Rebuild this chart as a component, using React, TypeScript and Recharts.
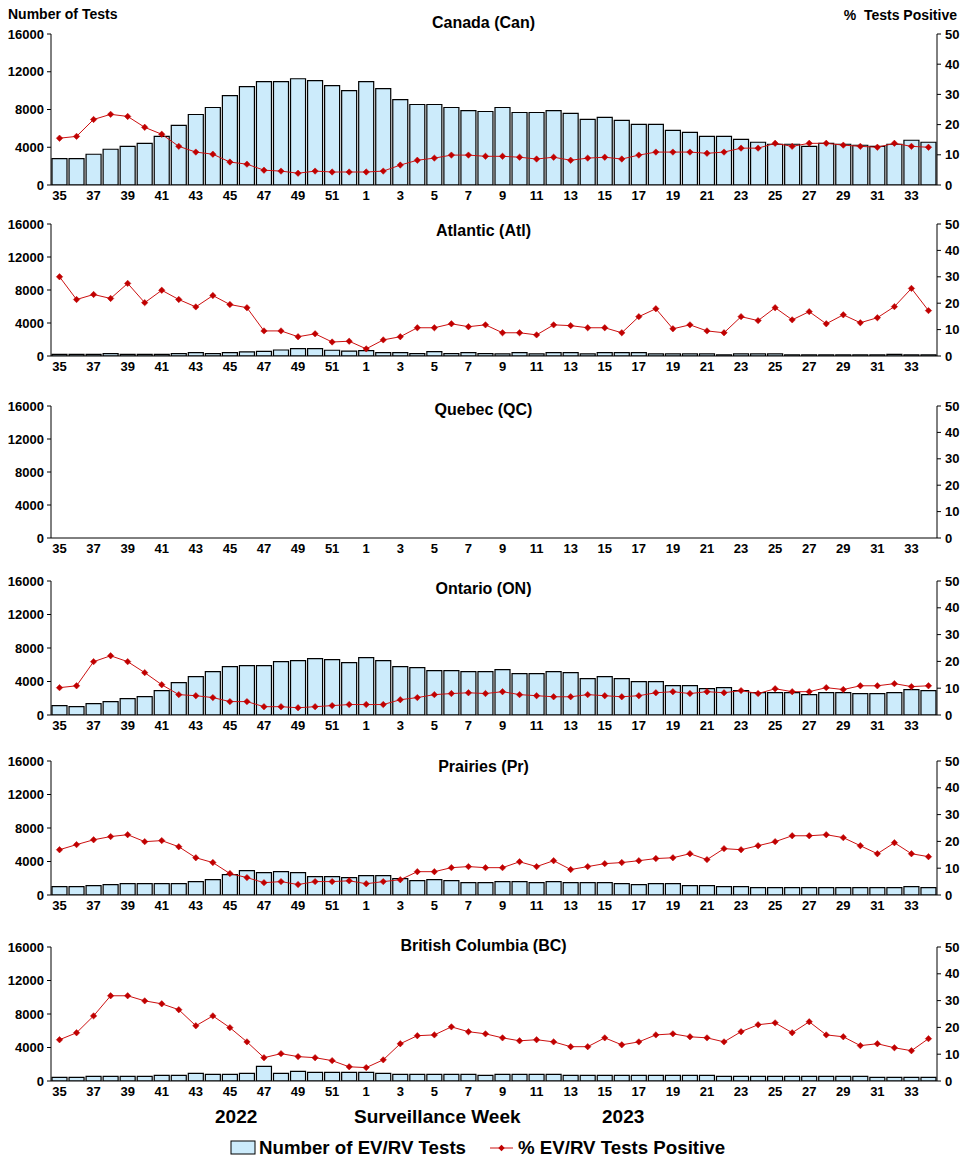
import React from "react";
import { ComposedChart, Bar, Line, XAxis, YAxis } from "recharts";

const weeks = [
  "35", "36", "37", "38", "39", "40", "41", "42", "43", "44", "45", "46", "47", "48", "49", "50", "51", "52",
  "1", "2", "3", "4", "5", "6", "7", "8", "9", "10", "11", "12", "13", "14", "15", "16", "17",
  "18", "19", "20", "21", "22", "23", "24", "25", "26", "27", "28", "29", "30", "31", "32", "33", "34",
];

const testTicks = [0, 4000, 8000, 12000, 16000];
const pctTicks = [0, 10, 20, 30, 40, 50];

// Canada
const canTests = [
  2800, 2800, 3260, 3790, 4100, 4420, 5160, 6320, 7470, 8210, 9470, 10420, 10950, 10950, 11260, 11050, 10530, 10000,
  10950, 10210, 9050, 8530, 8530, 8210, 7890, 7790, 8210, 7680, 7680, 7890, 7580, 6950, 7160, 6840, 6420,
  6420, 5790, 5580, 5160, 5160, 4840, 4530, 4320, 4320, 4100, 4420, 4320, 4210, 4100, 4320, 4740, 4530,
];
const canPct = [
  15.5, 16.1, 21.7, 23.4, 22.7, 19.1, 16.8, 12.8, 10.9, 10.2, 7.6, 6.9, 4.9, 4.6, 3.9, 4.6, 4.3, 4.3,
  4.3, 4.6, 6.6, 8.2, 8.9, 9.9, 9.9, 9.5, 9.5, 9.2, 8.6, 9.2, 8.2, 8.9, 9.2, 8.6, 9.9,
  10.9, 10.9, 10.9, 10.5, 10.9, 12.2, 12.2, 13.8, 12.8, 13.8, 13.8, 13.2, 12.8, 12.5, 13.8, 12.8, 12.5,
];

// Atlantic
const atlTests = [
  200, 200, 200, 300, 200, 200, 200, 300, 400, 300, 400, 500, 550, 730, 900, 900, 700, 600,
  650, 400, 400, 300, 530, 300, 400, 300, 250, 400, 250, 400, 400, 250, 400, 400, 400,
  250, 250, 250, 250, 150, 250, 250, 250, 150, 150, 150, 150, 150, 150, 200, 150, 150,
];
const atlPct = [
  30.0, 21.4, 23.3, 21.8, 27.5, 20.2, 24.9, 21.4, 18.6, 22.9, 19.5, 18.3, 9.5, 9.5, 7.3, 8.4, 5.3, 5.6,
  2.7, 6.1, 7.3, 10.7, 10.7, 12.2, 11.1, 11.8, 8.8, 8.8, 8.0, 11.8, 11.5, 10.7, 10.7, 8.8, 14.9,
  17.9, 10.3, 11.8, 9.5, 8.8, 14.9, 13.4, 18.3, 13.7, 16.8, 12.2, 15.6, 12.6, 14.5, 18.7, 25.6, 17.2,
];

// Quebec (no data reported)
const qcTests: (number | null)[] = [];
const qcPct: (number | null)[] = [];

// Ontario
const onTests = [
  1110, 1000, 1350, 1590, 1950, 2190, 2900, 3860, 4580, 5180, 5780, 5900, 5900, 6370, 6490, 6730, 6610, 6250,
  6850, 6490, 5780, 5660, 5300, 5300, 5180, 5180, 5420, 4940, 4940, 5180, 5060, 4340, 4580, 4340, 3980,
  3980, 3510, 3510, 3150, 3270, 2910, 2670, 2670, 2670, 2430, 2670, 2670, 2550, 2550, 2670, 3030, 2910,
];
const onPct = [
  10.2, 10.9, 19.9, 22.1, 19.9, 15.8, 11.3, 7.6, 7.2, 6.5, 5.0, 5.0, 3.1, 3.1, 2.7, 3.1, 3.5, 3.9,
  3.9, 3.9, 5.7, 6.5, 7.6, 8.0, 8.3, 8.0, 8.7, 7.6, 7.2, 6.8, 6.8, 7.6, 7.2, 6.8, 7.2,
  8.3, 8.7, 8.0, 8.7, 8.3, 9.1, 8.0, 9.8, 8.7, 8.7, 10.2, 9.5, 10.9, 10.9, 11.7, 10.6, 10.9,
];

// Prairies
const prTests = [
  1000, 1000, 1120, 1240, 1350, 1350, 1350, 1350, 1590, 1830, 2430, 2910, 2670, 2790, 2670, 2190, 2190, 2070,
  2310, 2310, 1950, 1710, 1830, 1710, 1470, 1470, 1590, 1590, 1470, 1590, 1470, 1470, 1470, 1350, 1240,
  1350, 1350, 1120, 1120, 1000, 1000, 880, 880, 880, 880, 880, 880, 880, 880, 880, 1000, 880,
];
const prPct = [
  16.9, 18.8, 20.6, 21.8, 22.5, 19.9, 20.3, 18.0, 13.9, 12.1, 8.0, 6.5, 4.6, 5.0, 3.9, 5.0, 5.0, 5.3,
  4.2, 5.0, 5.7, 8.7, 8.7, 10.2, 10.6, 10.2, 10.2, 12.4, 10.6, 12.8, 9.5, 10.6, 11.7, 12.1, 12.8,
  13.6, 13.9, 15.4, 13.2, 17.3, 16.9, 18.4, 19.9, 22.1, 22.1, 22.5, 21.4, 18.4, 15.4, 19.5, 15.4, 14.3,
];

// British Columbia
const bcTests = [
  440, 440, 560, 560, 560, 560, 670, 670, 910, 790, 790, 910, 1750, 910, 1150, 1030, 1030, 1030,
  1030, 910, 790, 790, 790, 790, 790, 670, 790, 790, 790, 790, 670, 670, 670, 670, 670,
  670, 670, 670, 670, 560, 560, 560, 560, 560, 560, 560, 560, 560, 440, 440, 440, 440,
];
const bcPct = [
  15.4, 18.0, 24.3, 31.8, 31.8, 29.9, 28.8, 26.6, 20.6, 24.3, 19.9, 14.6, 8.7, 10.2, 9.1, 8.7, 7.6, 5.3,
  5.0, 7.9, 13.9, 16.9, 17.2, 20.2, 18.4, 17.6, 16.1, 15.0, 15.4, 14.6, 12.8, 12.8, 16.1, 13.5, 14.6,
  17.2, 17.6, 16.5, 16.1, 14.6, 18.4, 21.0, 21.7, 18.0, 22.1, 17.2, 16.5, 13.2, 13.9, 12.4, 11.3, 15.8,
];

const FONT = "'Liberation Sans', Arial, sans-serif";
const BAR_FILL = "#CCEBFB";
const LINE_RED = "#CC1010";
const DOT_RED = "#C00000";

const panels = [
  { title: "Canada (Can)", tests: canTests, pct: canPct, plotTop: 34, plotH: 151, titleY: 23 },
  { title: "Atlantic (Atl)", tests: atlTests, pct: atlPct, plotTop: 224, plotH: 132, titleY: 231 },
  { title: "Quebec (QC)", tests: qcTests, pct: qcPct, plotTop: 406, plotH: 132, titleY: 410 },
  { title: "Ontario (ON)", tests: onTests, pct: onPct, plotTop: 581, plotH: 134, titleY: 589 },
  { title: "Prairies (Pr)", tests: prTests, pct: prPct, plotTop: 761, plotH: 134, titleY: 767 },
  { title: "British Columbia (BC)", tests: bcTests, pct: bcPct, plotTop: 947, plotH: 134, titleY: 946 },
];

const Diamond = (props: any) => {
  const { cx, cy, value, index } = props;
  if (value == null || cx == null || cy == null) return <g key={`d-${index}`} />;
  const r = 3.2;
  return (
    <path
      key={`d-${index}`}
      d={`M${cx},${cy - r}L${cx + r},${cy}L${cx},${cy + r}L${cx - r},${cy}Z`}
      fill={DOT_RED}
      stroke={DOT_RED}
      strokeWidth={0.5}
    />
  );
};

const tickStyle = { fontSize: 13, fontWeight: 700, fill: "#000", fontFamily: FONT };
const TOP_PAD = 8;
const X_AXIS_H = 24;

function Panel({ p }: { p: (typeof panels)[number] }) {
  const data = weeks.map((w, i) => ({
    week: w,
    tests: p.tests[i] ?? null,
    pct: p.pct[i] ?? null,
  }));
  const height = TOP_PAD + p.plotH + X_AXIS_H;
  return (
    <div style={{ position: "absolute", left: 0, top: p.plotTop - TOP_PAD, width: 967, height }}>
      <ComposedChart
        width={967}
        height={height}
        data={data}
        margin={{ top: TOP_PAD, right: 0, left: 0, bottom: 0 }}
        barCategoryGap={1}
      >
        <XAxis
          dataKey="week"
          interval={1}
          tickLine={false}
          tickSize={4}
          tickMargin={2}
          height={X_AXIS_H}
          axisLine={{ stroke: "#000" }}
          tick={tickStyle}
        />
        <YAxis
          yAxisId="left"
          orientation="left"
          width={51}
          domain={[0, 16000]}
          ticks={testTicks}
          tickSize={4}
          tickMargin={3}
          axisLine={{ stroke: "#000" }}
          tickLine={{ stroke: "#000" }}
          tick={tickStyle}
          allowDataOverflow
        />
        <YAxis
          yAxisId="right"
          orientation="right"
          width={30}
          domain={[0, 50]}
          ticks={pctTicks}
          tickSize={4}
          tickMargin={4}
          axisLine={{ stroke: "#000" }}
          tickLine={{ stroke: "#000" }}
          tick={tickStyle}
          allowDataOverflow
        />
        <Bar
          yAxisId="left"
          dataKey="tests"
          fill={BAR_FILL}
          stroke="#000"
          strokeWidth={1.2}
          isAnimationActive={false}
        />
        <Line
          yAxisId="right"
          type="linear"
          dataKey="pct"
          stroke={LINE_RED}
          strokeWidth={1}
          dot={Diamond}
          activeDot={false}
          isAnimationActive={false}
        />
      </ComposedChart>
    </div>
  );
}

const labelStyle: React.CSSProperties = {
  position: "absolute",
  fontFamily: FONT,
  fontWeight: 700,
  color: "#000",
  whiteSpace: "nowrap",
};

export default function App() {
  return (
    <div
      style={{
        position: "absolute",
        left: 0,
        top: 0,
        width: 967,
        height: 1170,
        background: "#fff",
        fontFamily: FONT,
      }}
    >
      <div style={{ ...labelStyle, left: 8, top: 6, fontSize: 14, lineHeight: "16px" }}>Number of Tests</div>
      <div style={{ ...labelStyle, right: 10, top: 7, fontSize: 14, lineHeight: "16px" }}>%&nbsp; Tests Positive</div>

      {panels.map((p) => (
        <React.Fragment key={p.title}>
          <Panel p={p} />
          <div
            style={{
              ...labelStyle,
              left: 0,
              width: 967,
              textAlign: "center",
              top: p.titleY - 10,
              fontSize: 16,
              lineHeight: "19px",
            }}
          >
            {p.title}
          </div>
        </React.Fragment>
      ))}

      <div style={{ ...labelStyle, left: 215, top: 1105, fontSize: 19, lineHeight: "23px" }}>2022</div>
      <div style={{ ...labelStyle, left: 354, top: 1105, fontSize: 19, lineHeight: "23px" }}>Surveillance Week</div>
      <div style={{ ...labelStyle, left: 602, top: 1105, fontSize: 19, lineHeight: "23px" }}>2023</div>

      <svg style={{ position: "absolute", left: 0, top: 1130 }} width={967} height={36}>
        <rect x={231} y={11} width={24} height={13} fill={BAR_FILL} stroke="#000" strokeWidth={1} />
        <line x1={490} y1={18} x2={513} y2={18} stroke={LINE_RED} strokeWidth={1} />
        <path d="M501.5,14.8L504.7,18L501.5,21.2L498.3,18Z" fill={DOT_RED} />
      </svg>
      <div style={{ ...labelStyle, left: 259, top: 1136, fontSize: 18.7, lineHeight: "23px" }}>
        Number of EV/RV Tests
      </div>
      <div style={{ ...labelStyle, left: 518, top: 1136, fontSize: 18.7, lineHeight: "23px" }}>
        % EV/RV Tests Positive
      </div>
    </div>
  );
}
